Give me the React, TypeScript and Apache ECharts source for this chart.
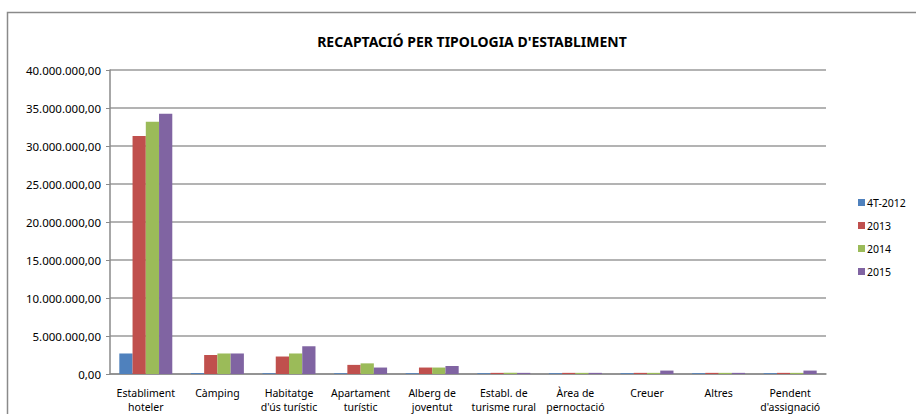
import React, { useEffect, useRef } from "react";
import * as echarts from "echarts";

const categories = [
  "Establiment\nhoteler",
  "Càmping",
  "Habitatge\nd'ús turístic",
  "Apartament\nturístic",
  "Alberg de\njoventut",
  "Establ. de\nturisme rural",
  "Àrea de\npernoctació",
  "Creuer",
  "Altres",
  "Pendent\nd'assignació",
];

const seriesNames = ["4T-2012", "2013", "2014", "2015"];
const colors = ["#4F81BD", "#C0504D", "#9BBB59", "#8064A2"];

const values4T2012 = [2700000, 120000, 100000, 100000, 100000, 100000, 100000, 100000, 100000, 100000];
const values2013 = [31300000, 2500000, 2300000, 1200000, 850000, 150000, 150000, 150000, 150000, 150000];
const values2014 = [33200000, 2700000, 2700000, 1400000, 850000, 150000, 150000, 150000, 150000, 150000];
const values2015 = [34250000, 2700000, 3650000, 850000, 1050000, 150000, 150000, 450000, 150000, 450000];

const allValues = [values4T2012, values2013, values2014, values2015];

const title = "RECAPTACIÓ PER TIPOLOGIA D'ESTABLIMENT";

function fmt(v: number): string {
  const fixed = v.toFixed(2);
  const [intPart, dec] = fixed.split(".");
  const withDots = intPart.replace(/\B(?=(\d{3})+(?!\d))/g, ".");
  return withDots + "," + dec;
}

const FONT = "Noto Sans";

export default function App() {
  const ref = useRef<HTMLDivElement>(null);
  useEffect(() => {
    if (!ref.current) return;
    const chart = echarts.init(ref.current, null, { renderer: "svg" });
    chart.setOption({
      animation: false,
      backgroundColor: "#ffffff",
      textStyle: { fontFamily: FONT },
      title: {
        text: title,
        left: 467,
        textAlign: "center",
        top: 29,
        textStyle: { fontSize: 14, fontWeight: "bold", color: "#000", fontFamily: FONT },
      },
      graphic: [
        {
          type: "rect",
          shape: { x: 7.5, y: 12.5, width: 1000, height: 500 },
          style: { fill: "none", stroke: "#8a8a8a", lineWidth: 1.5 },
          silent: true,
        },
      ],
      legend: {
        orient: "vertical",
        left: 853,
        top: 192,
        itemWidth: 7,
        itemHeight: 7,
        itemGap: 12,
        icon: "rect",
        data: seriesNames,
        textStyle: { fontSize: 10.5, color: "#000", fontFamily: FONT, padding: [0, 0, 0, -3] },
      },
      grid: { left: 110, right: 90, top: 70, bottom: 37 },
      xAxis: {
        type: "category",
        data: categories,
        axisLine: { show: true, lineStyle: { color: "#8a8a8a", width: 1.5 } },
        axisTick: { show: false },
        axisLabel: {
          interval: 0,
          fontSize: 10.5,
          color: "#000",
          lineHeight: 14,
          margin: 12,
          fontFamily: FONT,
        },
      },
      yAxis: {
        type: "value",
        min: 0,
        max: 40000000,
        interval: 5000000,
        axisLine: { show: true, lineStyle: { color: "#8a8a8a", width: 1.5 } },
        axisTick: { show: true, length: 4, lineStyle: { color: "#8a8a8a" } },
        splitLine: { show: true, lineStyle: { color: "#9a9a9a", width: 1.5 } },
        axisLabel: {
          formatter: (v: number) => fmt(v),
          fontSize: 11.5,
          color: "#000",
          margin: 9,
          fontFamily: FONT,
        },
      },
      series: seriesNames.map((name, i) => ({
        name,
        type: "bar",
        data: allValues[i],
        barGap: "0%",
        barCategoryGap: "26%",
        itemStyle: { color: colors[i] },
      })),
    });
    return () => chart.dispose();
  }, []);
  return (
    <div
      ref={ref}
      style={{ position: "absolute", left: 0, top: 0, width: 916, height: 414 }}
    />
  );
}
